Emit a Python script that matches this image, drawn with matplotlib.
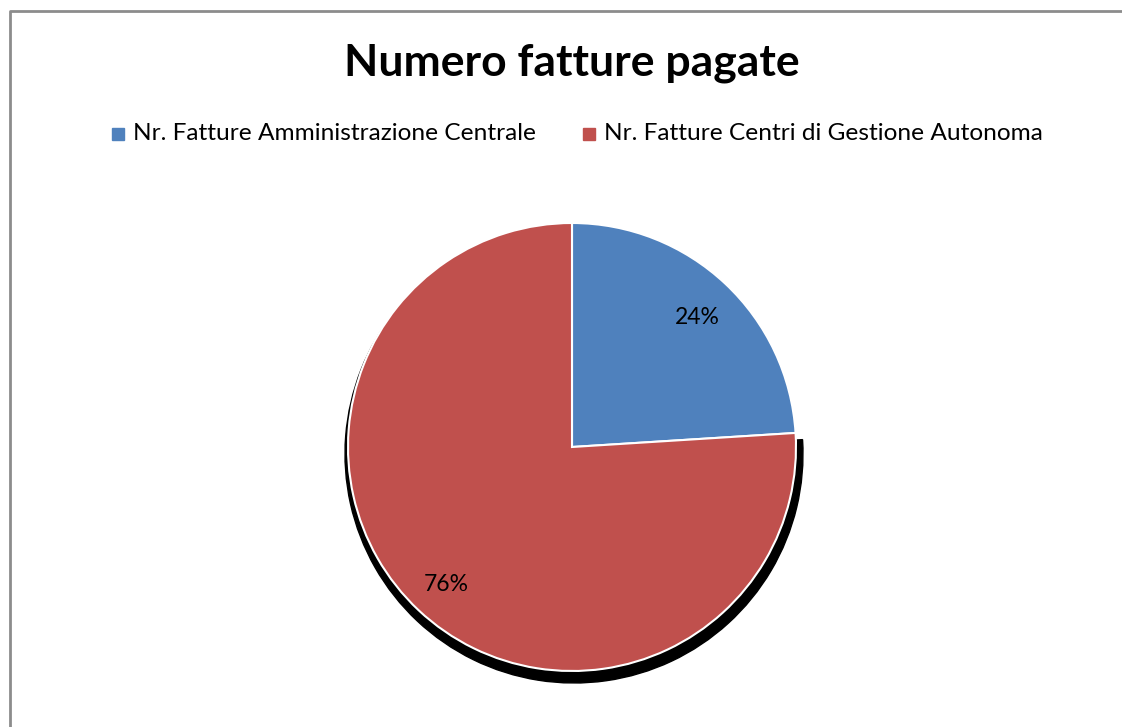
import numpy as np
import matplotlib.pyplot as plt
from matplotlib.patches import Wedge

# dati
categorie = ['Nr. Fatture Amministrazione Centrale', 'Nr. Fatture Centri di Gestione Autonoma']
valori = [24, 76]
colori = ['#4F81BD', '#C0504D']
titolo = 'Numero fatture pagate'

W, H = 1122, 727
plt.rcParams['font.family'] = ['Lato', 'DejaVu Sans']

fig = plt.figure(figsize=(W / 100, H / 100), dpi=100)
ax = fig.add_axes([0, 0, 1, 1])

# cornice grigia
ax.plot([10.5, 10.5, W], [0, H - 10.5, H - 10.5], color='#8c8c8c', lw=2, solid_capstyle='butt')

cx, cy, R = 572, H - 447, 224
wedges, texts, autotexts = ax.pie(valori, colors=colori, startangle=90, counterclock=False,
                                  center=(cx, cy), radius=R, autopct='%1.0f%%', pctdistance=0.82,
                                  wedgeprops=dict(edgecolor='white', linewidth=1.5),
                                  textprops=dict(fontsize=16.5, color='black'), frame=True)
for w in wedges:
    w.set_zorder(2)
for t in autotexts:
    t.set_zorder(3)
    x, y = t.get_position()
    t.set_position((x, y - 4))

# ombra solo dietro la fetta rossa
wr = wedges[1]
ax.add_patch(Wedge((cx + 2, cy - 7), R + 5, wr.theta1, wr.theta2, color='black', zorder=1))

ax.set_xlim(0, W)
ax.set_ylim(0, H)
ax.set_aspect('equal')
ax.axis('off')

fig.text(572 / W, 1 - 63 / H, titolo, ha='center', va='center', fontsize=32, fontweight='bold')

# legenda
ax.add_patch(plt.Rectangle((112, H - 140), 12, 12, color=colori[0], zorder=3))
ax.text(133, H - 133, categorie[0], fontsize=17.6, va='center', ha='left')
ax.add_patch(plt.Rectangle((583, H - 140), 12, 12, color=colori[1], zorder=3))
ax.text(604, H - 133, categorie[1], fontsize=17.6, va='center', ha='left')

fig.savefig('out.png', dpi=100)
